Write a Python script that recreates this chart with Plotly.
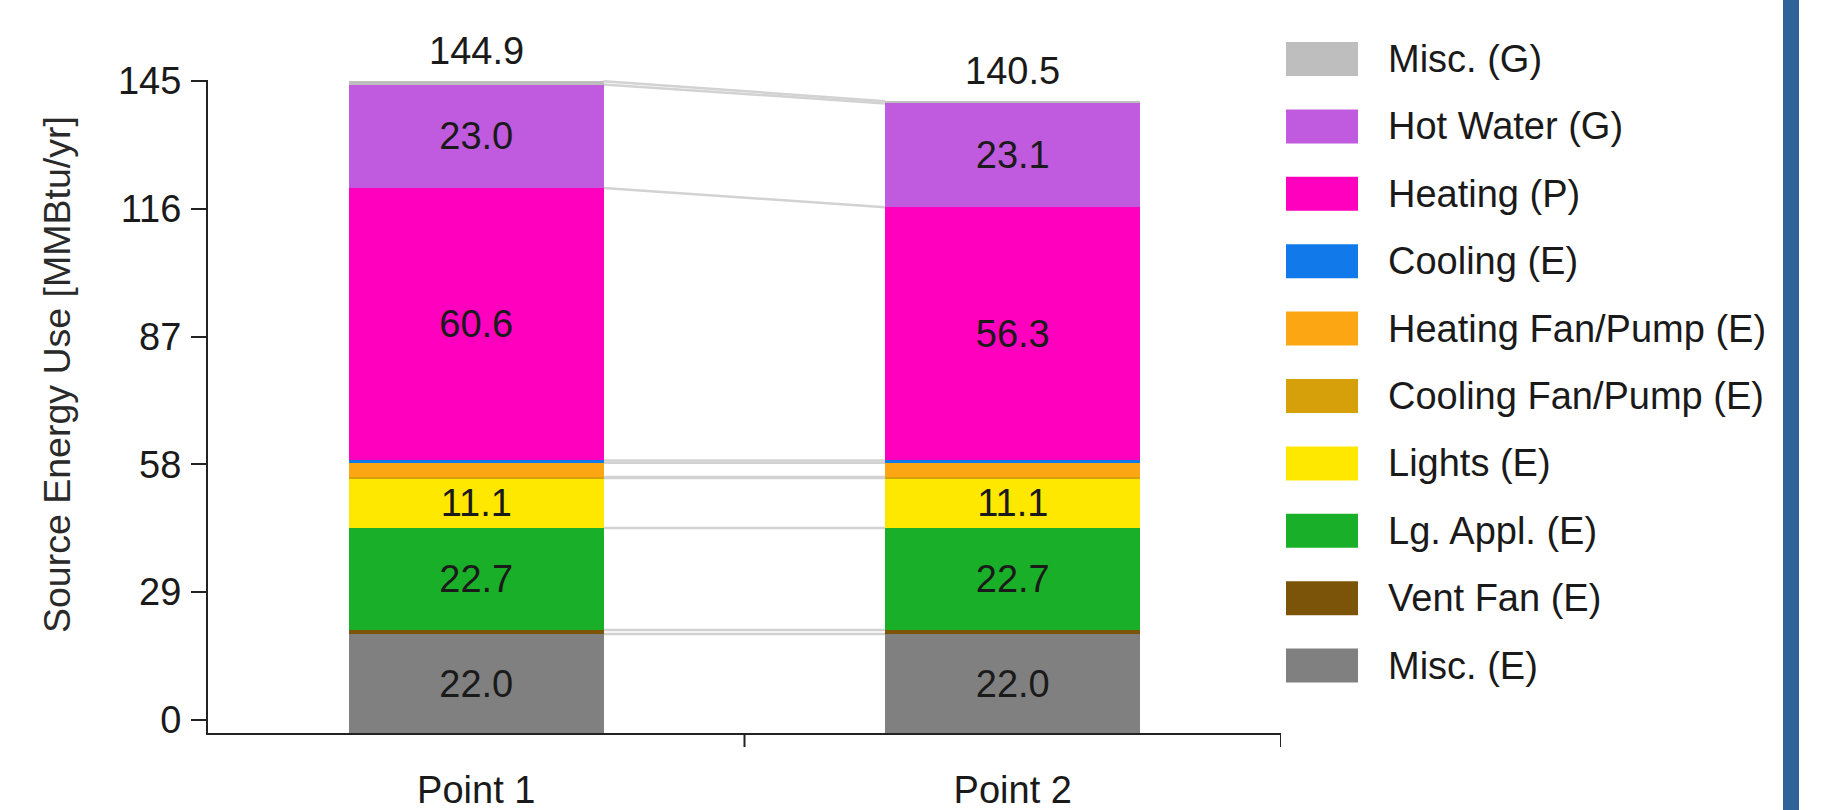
import plotly.graph_objects as go

# ---------------- data ----------------
CATEGORIES = ["Point 1", "Point 2"]

SERIES_NAMES = [
    "Misc. (E)", "Vent Fan (E)", "Lg. Appl. (E)", "Lights (E)",
    "Cooling Fan/Pump (E)", "Heating Fan/Pump (E)", "Cooling (E)",
    "Heating (P)", "Hot Water (G)", "Misc. (G)",
]
misc_e = [22.0, 22.0]
vent_fan = [0.9, 0.9]
lg_appl = [22.7, 22.7]
lights = [11.1, 11.1]
cooling_fan_pump = [0.2, 0.2]
heating_fan_pump = [3.2, 3.2]
cooling = [0.5, 0.5]
heating = [60.6, 56.3]
hot_water = [23.0, 23.1]
misc_g = [0.7, 0.5]

SERIES_VALUES = [misc_e, vent_fan, lg_appl, lights, cooling_fan_pump,
                 heating_fan_pump, cooling, heating, hot_water, misc_g]

Y_TICK_LABELS = [0, 29, 58, 87, 116, 145]

# ---------------- style ----------------
COLORS = ["#808080", "#7b5409", "#1aaf28", "#fee800", "#d6a00b",
          "#fca614", "#1279ea", "#ff00bf", "#c05ade", "#bebebe"]
FONT = "Liberation Sans, Arial, sans-serif"
TXT = "#1a1a1a"
FS = 38

W, H = 1829, 810
ML, MR, MT, MB = 208, 548, 80, 77
PW, PH = W - ML - MR, H - MT - MB
BAR_W = 0.475
Y_TOP = 145.2
TICK_OFFSET = 2.9   # the source chart draws its "0" tick slightly above the baseline


def px_x(px):
    return (px - ML) / PW


def px_y(py):
    return (H - MB - py) / PH


fig = go.Figure()
for name, vals, col in zip(SERIES_NAMES, SERIES_VALUES, COLORS):
    fig.add_trace(go.Bar(
        x=CATEGORIES, y=vals, name=name, width=BAR_W,
        marker=dict(color=col, line=dict(width=0)),
        text=[f"{v:.1f}" if v >= 5 else "" for v in vals],
        textposition="inside", insidetextanchor="middle",
        textangle=0, constraintext="none",
        insidetextfont=dict(family=FONT, size=FS, color=TXT),
        showlegend=False,
    ))

shapes = []
annotations = []

# connector lines between segment tops
cum = [0.0] * len(CATEGORIES)
for vals in SERIES_VALUES:
    cum = [c + v for c, v in zip(cum, vals)]
    for i in range(len(CATEGORIES) - 1):
        shapes.append(dict(type="line", xref="x", yref="y",
                           x0=i + BAR_W / 2, x1=i + 1 - BAR_W / 2,
                           y0=cum[i], y1=cum[i + 1],
                           line=dict(color="#d2d2d2", width=2.5), layer="below"))

# totals above bars
for i, cat in enumerate(CATEGORIES):
    annotations.append(dict(x=cat, y=cum[i], xref="x", yref="y",
                            text=f"{round(cum[i], 1):.1f}", showarrow=False,
                            yanchor="middle", yshift=30,
                            font=dict(family=FONT, size=FS, color=TXT)))

# x-axis boundary ticks
for i in range(1, len(CATEGORIES) + 1):
    shapes.append(dict(type="line", xref="x", yref="paper",
                       x0=i - 0.5, x1=i - 0.5, y0=0, y1=-14 / PH,
                       line=dict(color="#222222", width=2)))

# legend (top of stack first)
LEG_SW_X0, LEG_SW_X1 = 1286, 1358
LEG_TX = 1386
LEG_Y0, LEG_DY, LEG_SW_H = 59, 67.4, 34
for k, idx in enumerate(reversed(range(len(SERIES_NAMES)))):
    cy = LEG_Y0 + k * LEG_DY
    shapes.append(dict(type="rect", xref="paper", yref="paper",
                       x0=px_x(LEG_SW_X0), x1=px_x(LEG_SW_X1),
                       y0=px_y(cy + LEG_SW_H / 2), y1=px_y(cy - LEG_SW_H / 2),
                       fillcolor=COLORS[idx], line=dict(width=0)))
    annotations.append(dict(x=px_x(LEG_TX), y=px_y(cy), xref="paper", yref="paper",
                            text=SERIES_NAMES[idx], showarrow=False,
                            xanchor="left", yanchor="middle",
                            font=dict(family=FONT, size=FS, color=TXT)))

# right-hand blue border strip
shapes.append(dict(type="rect", xref="paper", yref="paper",
                   x0=px_x(1783), x1=px_x(1799), y0=px_y(H), y1=px_y(0),
                   fillcolor="#2e6399", line=dict(width=0)))

# y-axis title
annotations.append(dict(x=px_x(57), y=px_y(375), xref="paper", yref="paper",
                        text="Source Energy Use [MMBtu/yr]", showarrow=False,
                        textangle=-90, xanchor="center", yanchor="middle",
                        font=dict(family=FONT, size=37.5, color="#2a2a2a")))

n_t = len(Y_TICK_LABELS) - 1
tickvals = [TICK_OFFSET + k * (Y_TICK_LABELS[-1] - TICK_OFFSET) / n_t
            for k in range(n_t + 1)]

fig.update_layout(
    width=W, height=H, barmode="stack",
    margin=dict(l=ML, r=MR, t=MT, b=MB, pad=0, autoexpand=False),
    paper_bgcolor="white", plot_bgcolor="white",
    font=dict(family=FONT, size=FS, color=TXT),
    shapes=shapes, annotations=annotations, showlegend=False,
    xaxis=dict(type="category", range=[-0.5, len(CATEGORIES) - 0.5],
               automargin=False,
               showline=True, linecolor="#222222", linewidth=2,
               showgrid=False, zeroline=False, ticks="",
               ticklabelstandoff=22,
               tickfont=dict(family=FONT, size=FS, color=TXT)),
    yaxis=dict(range=[0, Y_TOP], automargin=False,
               showline=True, linecolor="#222222", linewidth=2,
               showgrid=False, zeroline=False, ticks="outside", ticklen=15,
               tickwidth=2, tickcolor="#222222",
               tickvals=tickvals, ticktext=[str(t) for t in Y_TICK_LABELS],
               ticklabelstandoff=2,
               tickfont=dict(family=FONT, size=FS, color=TXT)),
)

fig.write_html("out.html")
